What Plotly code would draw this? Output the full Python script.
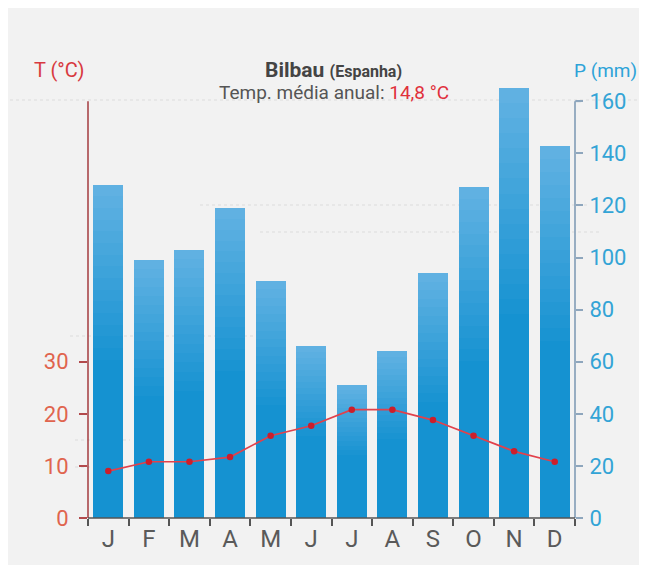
import plotly.graph_objects as go

# ---- data ----
months = ["J", "F", "M", "A", "M", "J", "J", "A", "S", "O", "N", "D"]
precip_mm = [128, 99, 103, 119, 91, 66, 51, 64, 94, 127, 165, 143]
temp_c = [9.0, 10.8, 10.8, 11.7, 15.8, 17.7, 20.8, 20.8, 18.8, 15.8, 12.8, 10.8]
temp_ticks = [0, 10, 20, 30]
precip_ticks = [0, 20, 40, 60, 80, 100, 120, 140, 160]

W, H = 647, 565
L, R, T, B = 80, 80, 75, 55
PW, PH = W - L - R, H - T - B
FONT = "Roboto, sans-serif"


def px(x):
    return (x - L) / PW


def py(y):
    return (H - B - y) / PH


xs = list(range(len(months)))
fig = go.Figure()

# gradient bars: overlaid layers, light at the top of each bar, darker lower down
top_rgb = (96, 177, 226)
bot_rgb = (21, 146, 209)
n_layers = 16
for k in range(n_layers):
    t = k / (n_layers - 1)
    f = 1 - k * 0.035
    c = tuple(round(top_rgb[i] + (bot_rgb[i] - top_rgb[i]) * t) for i in range(3))
    fig.add_trace(go.Bar(
        x=xs, y=[v * f for v in precip_mm], yaxis="y", width=0.74,
        marker=dict(color="rgb(%d,%d,%d)" % c, line=dict(width=0)),
        showlegend=False, hoverinfo="skip" if k else None,
    ))

fig.add_trace(go.Scatter(
    x=xs, y=temp_c, yaxis="y2", mode="lines+markers",
    line=dict(color="#e2414b", width=1.7),
    marker=dict(color="#cc1e2b", size=6.5),
    showlegend=False,
))

shapes = []
# faint dotted background lines
for (x0, x1, y) in [(2, 632, 92), (192, 582, 197), (252, 592, 224), (62, 252, 328),
                    (67, 122, 432), (67, 102, 459)]:
    shapes.append(dict(type="line", xref="paper", yref="paper",
                       x0=px(x0), x1=px(x1), y0=py(y), y1=py(y), layer="below",
                       line=dict(color="#dcdcdc", width=1.2, dash="dot")))
# axis lines
shapes.append(dict(type="line", xref="paper", yref="y", x0=0, x1=0, y0=0, y1=160,
                   line=dict(color="#a8464a", width=1.6)))
shapes.append(dict(type="line", xref="paper", yref="y", x0=1, x1=1, y0=0, y1=160,
                   line=dict(color="#8ea6bd", width=1.8)))
shapes.append(dict(type="line", xref="paper", yref="y", x0=1, x1=1.012, y0=160, y1=160,
                   line=dict(color="#8ea6bd", width=1.8)))
shapes.append(dict(type="line", xref="paper", yref="paper", x0=0, x1=1, y0=0, y1=0,
                   line=dict(color="#555555", width=1.6)))

annotations = [
    dict(text="<b>Bilbau</b> <b><span style='font-size:16px'>(Espanha)</span></b>",
         x=px(325), y=py(62), font=dict(size=21, color="#444444")),
    dict(text="Temp. média anual: <span style='color:#e0303a'>14,8 °C</span>",
         x=px(326), y=py(85), font=dict(size=19, color="#555555")),
    dict(text="T (°C)", x=px(51), y=py(62), font=dict(size=20, color="#d83a40")),
    dict(text="P (mm)", x=px(597), y=py(62), font=dict(size=19, color="#2ea3d8")),
]
for a in annotations:
    a.update(xref="paper", yref="paper", showarrow=False, xanchor="center", yanchor="middle",
             font=dict(family=FONT, **a["font"]))

fig.update_layout(
    width=W, height=H,
    margin=dict(l=L, r=R, t=T, b=B, pad=0),
    paper_bgcolor="#f2f2f2", plot_bgcolor="rgba(0,0,0,0)",
    barmode="overlay", bargap=0,
    font=dict(family=FONT),
    xaxis=dict(
        range=[-0.5, 11.5], tickmode="array", tickvals=xs, ticktext=months,
        ticks="", showgrid=False, zeroline=False, showline=False,
        tickfont=dict(size=24, color="#5a5a5a", family=FONT),
        ticklabelstandoff=4,
        minor=dict(tickmode="array", tickvals=[i - 0.5 for i in range(13)],
                   ticks="outside", ticklen=7, tickwidth=1.6, tickcolor="#555555",
                   showgrid=False),
    ),
    yaxis=dict(
        range=[0, 167], side="right", tickmode="array", tickvals=precip_ticks,
        ticks="outside", ticklen=7, tickwidth=1.6, tickcolor="#8ea6bd",
        showgrid=False, zeroline=False, showline=False,
        tickfont=dict(size=22, color="#33a4d6", family=FONT),
        ticklabelstandoff=2,
    ),
    yaxis2=dict(
        range=[0, 83.5], overlaying="y", side="left", tickmode="array", tickvals=temp_ticks,
        ticks="outside", ticklen=8, tickwidth=1.6, tickcolor="#b24a4c",
        showgrid=False, zeroline=False, showline=False,
        tickfont=dict(size=22, color="#e0644e", family=FONT),
        ticklabelstandoff=6,
    ),
    shapes=shapes, annotations=annotations,
    showlegend=False,
)

fig.write_html("out.html")
